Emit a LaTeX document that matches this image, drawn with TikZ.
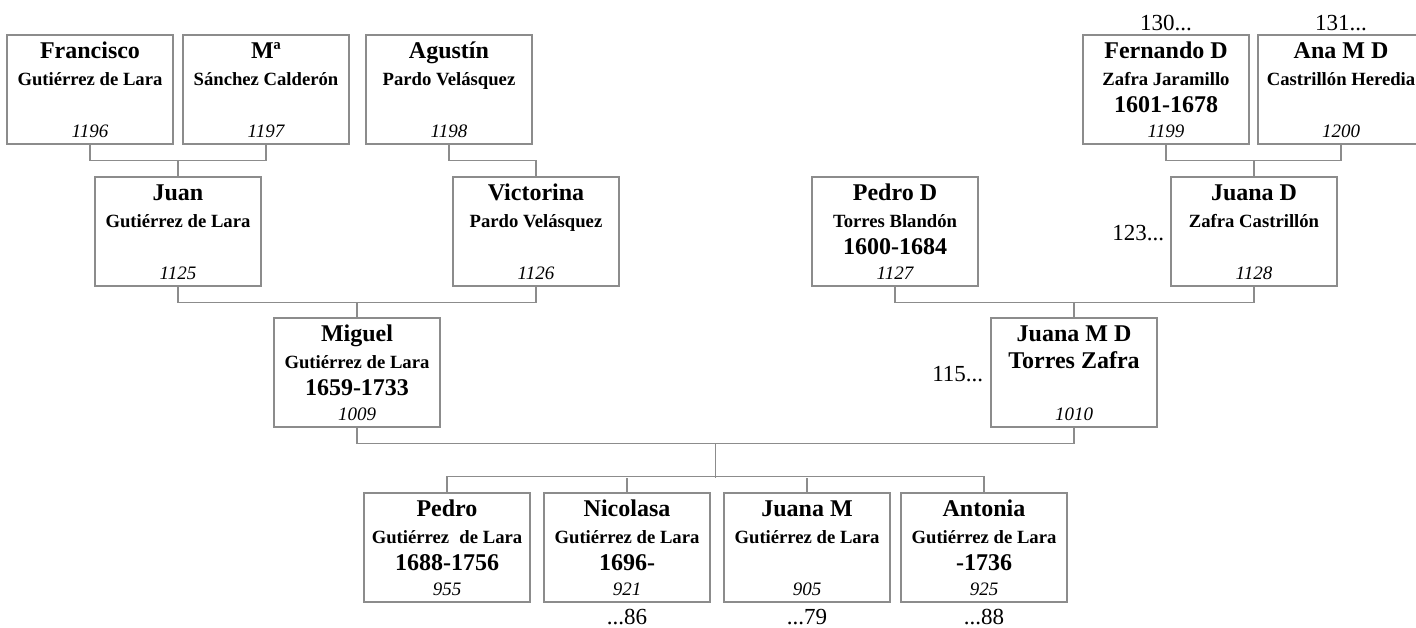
\documentclass[tikz,border=0pt]{standalone}
\usepackage{fontspec}
\setmainfont{Liberation Serif}
\usetikzlibrary{calc}
\definecolor{boxgray}{HTML}{8C8C8C}
\tikzset{
 pbox/.style={draw=boxgray, line width=1.3pt, fill=white, rectangle, minimum width=166pt, minimum height=109pt, inner sep=0pt},
 conn/.style={draw=boxgray, line width=1.3pt},
 nm/.style={anchor=base, inner sep=0pt, font=\fontsize{24}{28}\selectfont\bfseries},
 sn/.style={anchor=base, inner sep=0pt, font=\fontsize{18.67}{22}\selectfont\bfseries},
 dt/.style={anchor=base, inner sep=0pt, font=\fontsize{24}{28}\selectfont\bfseries},
 idn/.style={anchor=base, inner sep=0pt, font=\fontsize{19}{22}\selectfont\itshape},
 lbl/.style={inner sep=0pt, font=\fontsize{23}{27}\selectfont},
}
\newcommand\person[6]{%
 \node[pbox] (#1) at (#2,{-(#3)-54.5}) {};
 \node[nm] (#1-n) at ([yshift=-24pt]#1.north) {#4};
 \node[sn] (#1-s) at ([yshift=-51pt]#1.north) {#5};
 \node[idn] (#1-i) at ([yshift=-103pt]#1.north) {#6};
}
\newcommand\pdate[2]{\node[dt] (#1-d) at ([yshift=-78pt]#1.north) {#2};}
\begin{document}
\begin{tikzpicture}[x=1pt,y=1pt]
\path[use as bounding box, clip] (0,0) rectangle (1416,-628);
% row 1
\person{fran}{90}{35}{Francisco}{Gutiérrez de Lara}{1196}
\person{ma}{266}{35}{Mª}{Sánchez Calderón}{1197}
\person{agus}{449}{35}{Agustín}{Pardo Velásquez}{1198}
\person{fern}{1166}{35}{Fernando D}{Zafra Jaramillo}{1199}
\pdate{fern}{1601-1678}
\person{ana}{1341}{35}{Ana M D}{Castrillón Heredia}{1200}
% row 2
\person{juan}{178}{177}{Juan}{Gutiérrez de Lara}{1125}
\person{vict}{536}{177}{Victorina}{Pardo Velásquez}{1126}
\person{pedrod}{895}{177}{Pedro D}{Torres Blandón}{1127}
\pdate{pedrod}{1600-1684}
\person{juanad}{1254}{177}{Juana D}{Zafra Castrillón}{1128}
% row 3
\person{miguel}{357}{318}{Miguel}{Gutiérrez de Lara}{1009}
\pdate{miguel}{1659-1733}
\node[pbox] (juanamd) at (1074,{-318-54.5}) {};
\node[nm] (juanamd-n) at ([yshift=-24pt]juanamd.north) {Juana M D};
\node[nm] (juanamd-s) at ([yshift=-51pt]juanamd.north) {Torres Zafra};
\node[idn] (juanamd-i) at ([yshift=-103pt]juanamd.north) {1010};
% row 4
\person{pedro}{447}{493}{Pedro}{Gutiérrez\hspace{0.3em} de Lara}{955}
\pdate{pedro}{1688-1756}
\person{nico}{627}{493}{Nicolasa}{Gutiérrez de Lara}{921}
\pdate{nico}{1696-}
\person{juanam}{807}{493}{Juana M}{Gutiérrez de Lara}{905}
\person{anto}{984}{493}{Antonia}{Gutiérrez de Lara}{925}
\pdate{anto}{-1736}
% labels
\node[lbl, anchor=base] (l130) at ([yshift=4pt]fern.north) {130...};
\node[lbl, anchor=base] (l131) at ([yshift=4pt]ana.north) {131...};
\node[lbl, anchor=base east] (l123) at ([xshift=-6pt,yshift=-64pt]juanad.north west) {123...};
\node[lbl, anchor=base east] (l115) at ([xshift=-7pt,yshift=-64pt]juanamd.north west) {115...};
\node[lbl, anchor=base] (l86) at ([yshift=-22pt]nico.south) {...86};
\node[lbl, anchor=base] (l79) at ([yshift=-22pt]juanam.south) {...79};
\node[lbl, anchor=base] (l88) at ([yshift=-22pt]anto.south) {...88};
% connectors
\coordinate (fm) at ($(fran.south)!0.5!(ma.south)+(0,-16)$);
\draw[conn] (fran.south) -- ++(0,-16) -| (ma.south);
\draw[conn] (juan.north) -- (juan.north |- fm);
\draw[conn] (agus.south) -- ++(0,-16) -| (vict.north);
\coordinate (fa) at ($(fern.south)!0.5!(ana.south)+(0,-16)$);
\draw[conn] (fern.south) -- ++(0,-16) -| (ana.south);
\draw[conn] (juanad.north) -- (juanad.north |- fa);
\coordinate (jv) at ($(juan.south)!0.5!(vict.south)+(0,-16)$);
\draw[conn] (juan.south) -- ++(0,-16) -| (vict.south);
\draw[conn] (miguel.north) -- (miguel.north |- jv);
\coordinate (pj) at ($(pedrod.south)!0.5!(juanad.south)+(0,-16)$);
\draw[conn] (pedrod.south) -- ++(0,-16) -| (juanad.south);
\draw[conn] (juanamd.north) -- (juanamd.north |- pj);
\coordinate (mj) at ($(miguel.south)!0.5!(juanamd.south)+(0,-16)$);
\coordinate (kids) at ($(mj)+(0,-34)$);
\draw[conn] (miguel.south) -- ++(0,-16) -| (juanamd.south);
\draw[conn] (mj) -- (kids);
\draw[conn] (pedro.north) -- ++(0,16) -| (anto.north);
\draw[conn] (nico.north) -- (nico.north |- kids);
\draw[conn] (juanam.north) -- (juanam.north |- kids);
\end{tikzpicture}
\end{document}
